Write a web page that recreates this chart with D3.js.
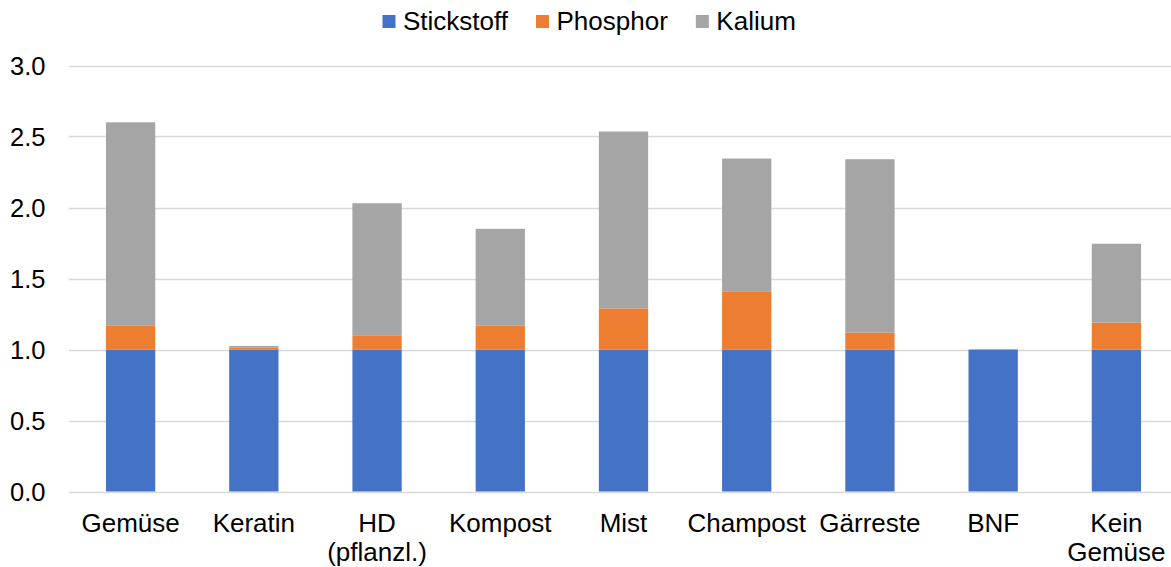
<!DOCTYPE html>
<html>
<head>
<meta charset="utf-8">
<script src="https://cdn.jsdelivr.net/npm/d3@7"></script>
<style>
  html, body { margin: 0; padding: 0; background: #fff; }
  svg { display: block; }
  text { font-family: "Liberation Sans", Arial, sans-serif; fill: #000; }
</style>
</head>
<body>
<svg id="chart" width="1171" height="567"></svg>
<script>
// ---- data ----
const categories = ["Gemüse", "Keratin", "HD\n(pflanzl.)", "Kompost", "Mist", "Champost", "Gärreste", "BNF", "Kein\nGemüse"];
const seriesNames = ["Stickstoff", "Phosphor", "Kalium"];
const stickstoff = [1, 1, 1, 1, 1, 1, 1, 1, 1];
const phosphor   = [0.17, 0.015, 0.10, 0.17, 0.29, 0.41, 0.12, 0, 0.19];
const kalium     = [1.43, 0.01, 0.93, 0.68, 1.245, 0.935, 1.22, 0, 0.555];
const yTicks = [0, 0.5, 1.0, 1.5, 2.0, 2.5, 3.0];
const colors = ["#4472C4", "#ED7D31", "#A5A5A5"];

// ---- layout ----
const W = 1171, H = 567;
const plot = { left: 69, right: 1178, top: 65.5, bottom: 491.5 };
const svg = d3.select("#chart");

const rows = categories.map((c, i) => ({
  cat: c, Stickstoff: stickstoff[i], Phosphor: phosphor[i], Kalium: kalium[i]
}));

const x = d3.scaleBand().domain(categories).range([plot.left, plot.right]).paddingInner(0.6).paddingOuter(0.3);
const y = d3.scaleLinear().domain([0, 3]).range([plot.bottom, plot.top]);

// gridlines
svg.append("g").selectAll("line").data(yTicks).join("line")
  .attr("x1", plot.left).attr("x2", W)
  .attr("y1", d => Math.round(y(d)) + 0.5).attr("y2", d => Math.round(y(d)) + 0.5)
  .attr("stroke", "#D9D9D9").attr("stroke-width", 1.3);

// y axis labels
const yAxis = d3.axisLeft(y).tickValues(yTicks).tickFormat(d3.format(".1f")).tickSize(0).tickPadding(0);
const ya = svg.append("g").attr("transform", `translate(45.5,0)`).call(yAxis);
ya.select(".domain").remove();
ya.selectAll("text").attr("font-size", "25.5px").attr("fill", "#000")
  .style("font-family", '"Liberation Sans", Arial, sans-serif').attr("dy", "0.35em");

// stacked bars
const stack = d3.stack().keys(seriesNames);
const stacked = stack(rows);
svg.append("g").selectAll("g").data(stacked).join("g")
  .attr("fill", (d, i) => colors[i])
  .selectAll("rect").data(d => d).join("rect")
  .attr("x", d => x(d.data.cat))
  .attr("width", x.bandwidth())
  .attr("y", d => y(d[1]))
  .attr("height", d => Math.max(0, y(d[0]) - y(d[1])));

// x labels
const xl = svg.append("g");
categories.forEach(c => {
  const lines = c.split("\n");
  const t = xl.append("text")
    .attr("x", x(c) + x.bandwidth() / 2)
    .attr("y", 532)
    .attr("text-anchor", "middle")
    .attr("font-size", "26px");
  lines.forEach((l, j) => {
    t.append("tspan").attr("x", x(c) + x.bandwidth() / 2).attr("dy", j === 0 ? 0 : 28.5).text(l);
  });
});

// legend
const lg = svg.append("g");
let lx = 382.5;
seriesNames.forEach((s, i) => {
  lg.append("rect").attr("x", lx).attr("y", 15).attr("width", 13).attr("height", 13).attr("fill", colors[i]);
  const t = lg.append("text").attr("x", lx + 20.5).attr("y", 29.5).attr("font-size", "26px").text(s);
  const w = t.node().getComputedTextLength();
  lx = lx + 20.5 + w + 28;
});
</script>
</body>
</html>
